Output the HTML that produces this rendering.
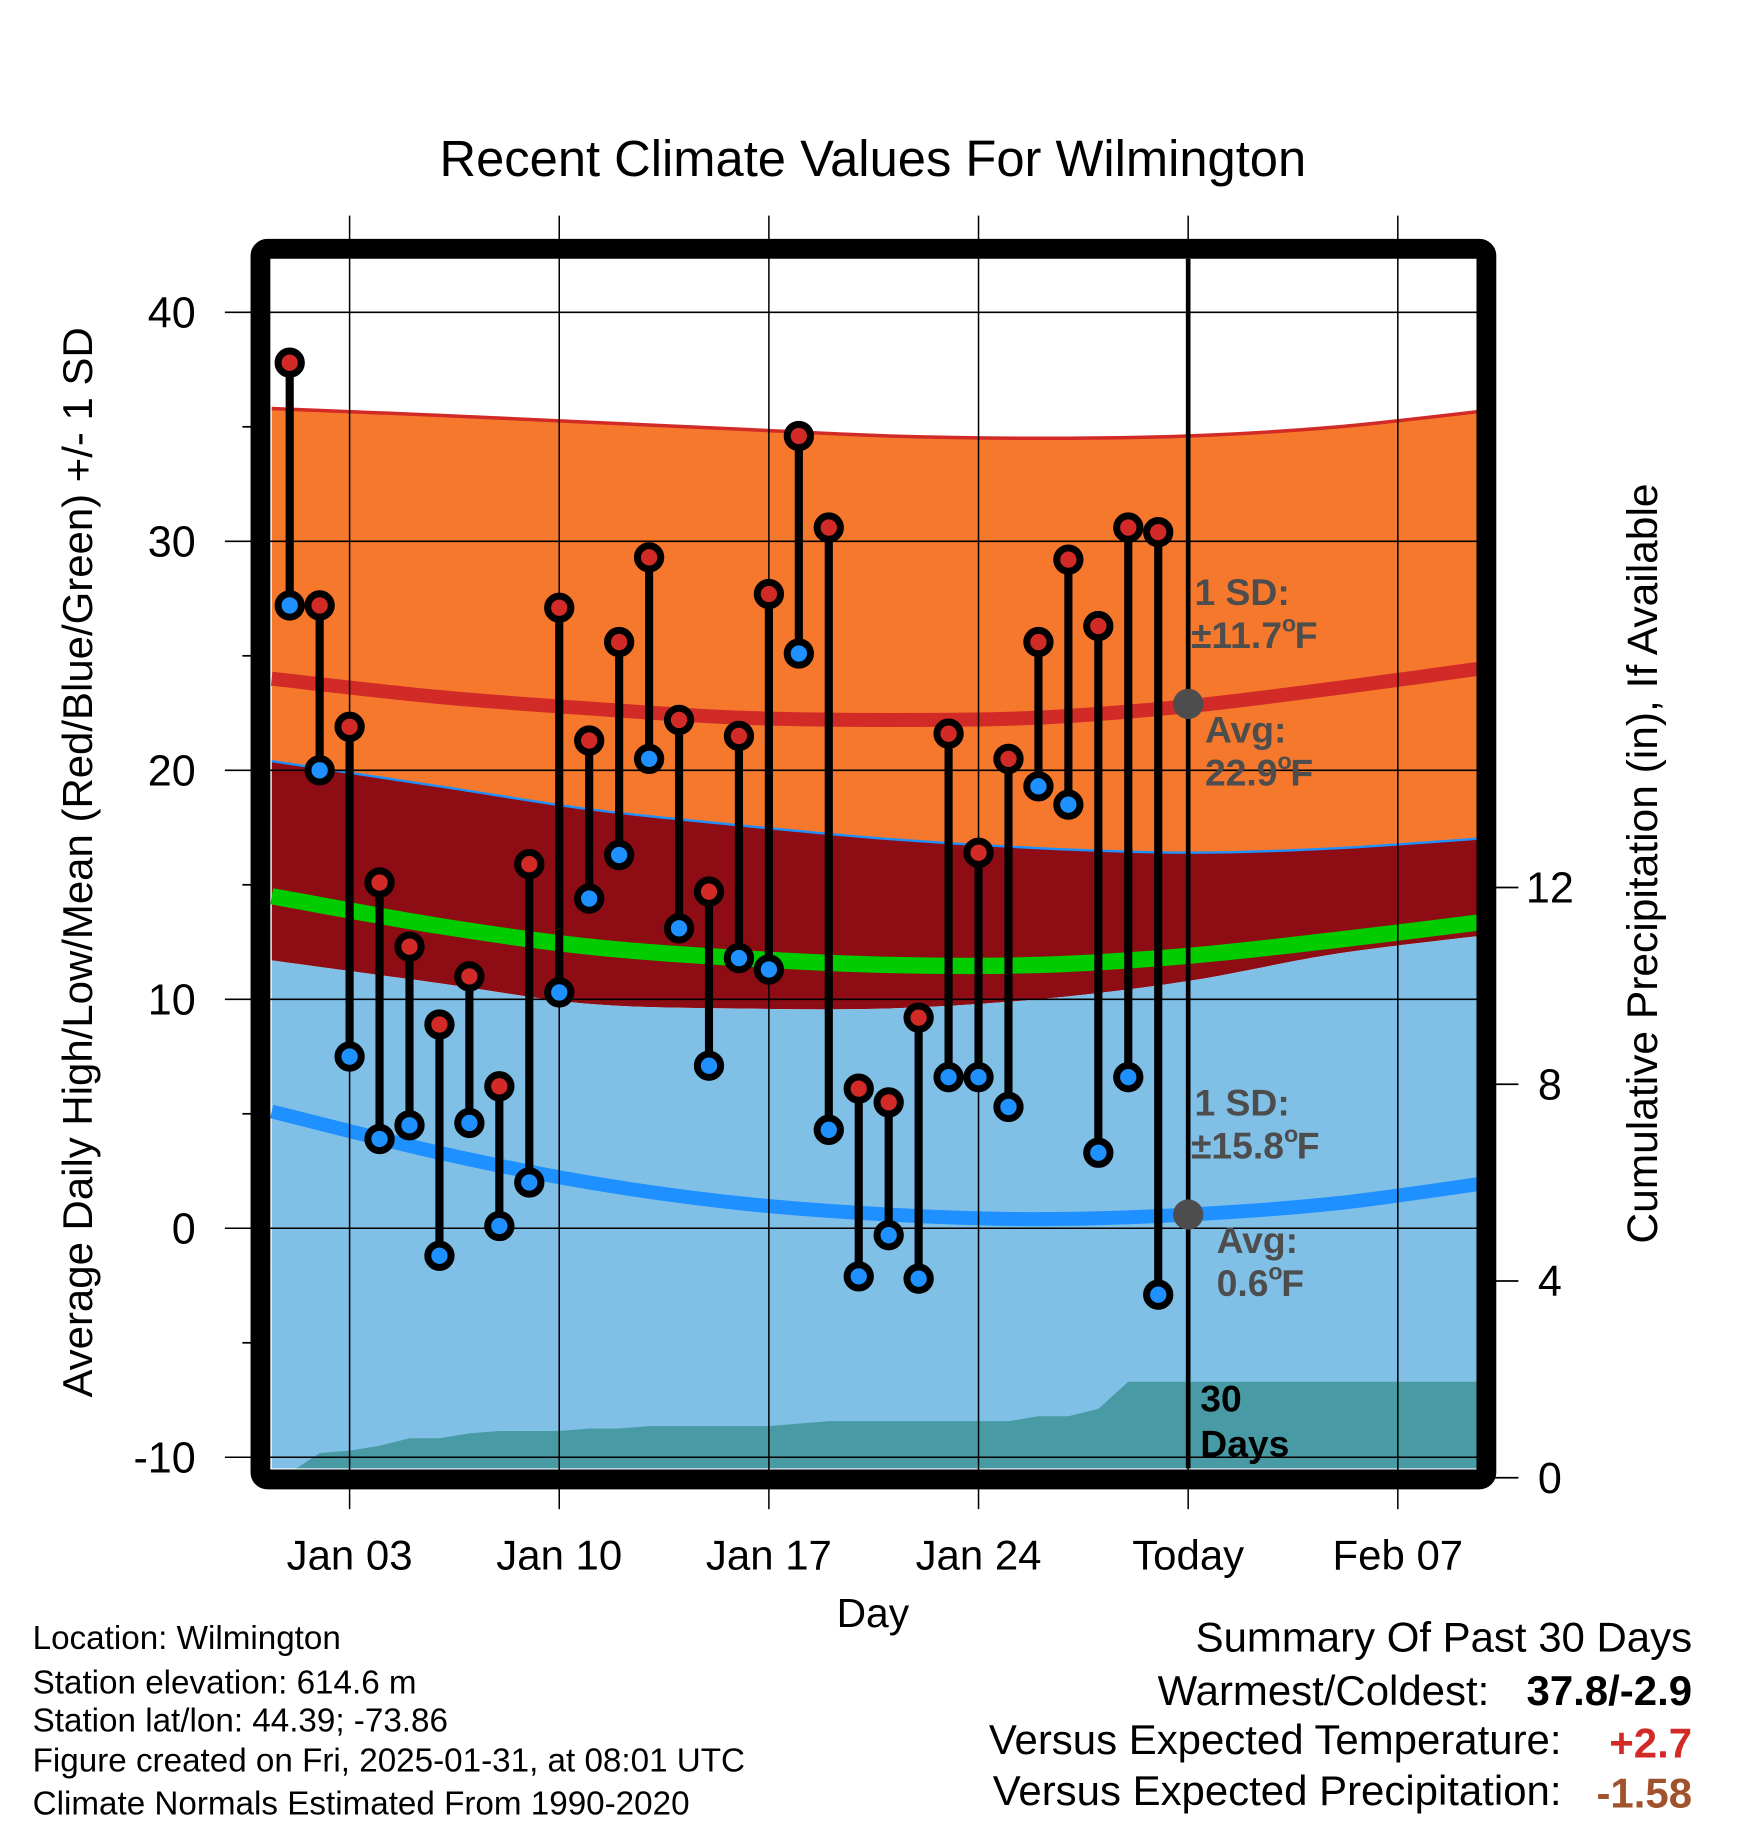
<!DOCTYPE html>
<html><head><meta charset="utf-8"><style>
html,body{margin:0;padding:0;background:#fff;}
svg{display:block;font-family:"Liberation Sans",sans-serif;}
</style></head><body>
<svg id="chart" width="1748" height="1828" viewBox="0 0 1500 1568.6" preserveAspectRatio="none" xmlns="http://www.w3.org/2000/svg">
<defs><clipPath id="plotclip"><rect x="232" y="222" width="1036" height="1038"/></clipPath></defs>
<rect width="1500" height="1568.6" fill="#fff"/>
<text x="749" y="151" font-size="43.5" text-anchor="middle">Recent Climate Values For Wilmington</text>
<g id="bands" clip-path="url(#plotclip)"></g>
<g id="grid"></g>
<g id="marks" clip-path="url(#plotclip)"></g>
<g id="labels"></g>
<g id="frame"></g>
<text transform="translate(79,740) rotate(-90)" font-size="36" text-anchor="middle">Average Daily High/Low/Mean (Red/Blue/Green) +/- 1 SD</text>
<text transform="translate(1422,741) rotate(-90)" font-size="36.5" text-anchor="middle">Cumulative Precipitation (in), If Available</text>
<text x="749" y="1396" font-size="35" text-anchor="middle">Day</text>
<g font-size="28.5">
<text x="28" y="1415">Location: Wilmington</text>
<text x="28" y="1453">Station elevation: 614.6 m</text>
<text x="28" y="1486">Station lat/lon: 44.39; -73.86</text>
<text x="28" y="1520">Figure created on Fri, 2025-01-31, at 08:01 UTC</text>
<text x="28" y="1557">Climate Normals Estimated From 1990-2020</text>
</g>
<g font-size="36" text-anchor="end">
<text x="1452" y="1417">Summary Of Past 30 Days</text>
<text x="1278" y="1463">Warmest/Coldest:</text>
<text x="1452" y="1463" font-weight="bold">37.8/-2.9</text>
<text x="1340" y="1505">Versus Expected Temperature:</text>
<text x="1452" y="1508" font-weight="bold" fill="#d12a27">+2.7</text>
<text x="1340" y="1549">Versus Expected Precipitation:</text>
<text x="1452" y="1551" font-weight="bold" fill="#a0522d">-1.58</text>
</g>
</svg>
<script>
const days=[1,2,3,4,5,6,7,8,9,10,11,12,13,14,15,16,17,18,19,20,21,22,23,24,25,26,27,28,29,30];
const highs=[37.8,27.2,21.9,15.1,12.3,8.9,11.0,6.2,15.9,27.1,21.3,25.6,29.3,22.2,14.7,21.5,27.7,34.6,30.6,6.1,5.5,9.2,21.6,16.4,20.5,25.6,29.2,26.3,30.6,30.4];
const lows=[27.2,20.0,7.5,3.9,4.5,-1.2,4.6,0.1,2.0,10.3,14.4,16.3,20.5,13.1,7.1,11.8,11.3,25.1,4.3,-2.1,-0.3,-2.2,6.6,6.6,5.3,19.3,18.5,3.3,6.6,-2.9];
const precip=[0.1,0.5,0.55,0.65,0.8,0.8,0.9,0.95,0.95,0.95,1.0,1.0,1.05,1.05,1.05,1.05,1.05,1.1,1.15,1.15,1.15,1.15,1.15,1.15,1.15,1.25,1.25,1.4,1.95,1.95];
const normDays=[0.4,6,11,16,21,26,31,36,41.6];
const highUpper=[35.8,35.5,35.2,34.9,34.6,34.5,34.6,35.0,35.8];
const highMean=[24.0,23.2,22.7,22.3,22.2,22.3,22.8,23.6,24.6];
const lowUpper=[20.4,19.3,18.3,17.6,17.0,16.6,16.4,16.6,17.1];
const darkLower=[11.7,10.7,9.8,9.6,9.6,10.0,10.8,12.0,12.9];
const meanLine=[14.5,13.2,12.3,11.8,11.5,11.5,11.9,12.6,13.5];
const lowMean=[5.1,3.3,2.0,1.1,0.6,0.4,0.6,1.1,2.1];
const yTicks=[-10,0,10,20,30,40];
const pTicks=[0,4,8,12];
const xTickDays=[3,10,17,24,31,38];
const xTickLabels=["Jan 03","Jan 10","Jan 17","Jan 24","Today","Feb 07"];

const NS="http://www.w3.org/2000/svg";
const X=d=>300+(d-3)*25.7;
const Y=v=>1054-v*19.65;
const P=p=>1268-p*42.2;
function mk(tag,attrs,parent){const e=document.createElementNS(NS,tag);for(const k in attrs)e.setAttribute(k,attrs[k]);parent.appendChild(e);return e;}
const gBands=document.getElementById('bands'),gGrid=document.getElementById('grid'),gMarks=document.getElementById('marks'),gFrame=document.getElementById('frame'),gLabels=document.getElementById('labels');
function pts(arr){return arr.map((v,i)=>[X(normDays[i]),Y(v)]);}
function smooth(p){let d='';for(let i=0;i+1<p.length;i++){const p0=p[i-1]||p[i],p1=p[i],p2=p[i+1],p3=p[i+2]||p2;
 const c1=[p1[0]+(p2[0]-p0[0])/6,p1[1]+(p2[1]-p0[1])/6],c2=[p2[0]-(p3[0]-p1[0])/6,p2[1]-(p3[1]-p1[1])/6];
 d+=' C'+c1[0].toFixed(1)+','+c1[1].toFixed(1)+' '+c2[0].toFixed(1)+','+c2[1].toFixed(1)+' '+p2[0].toFixed(1)+','+p2[1].toFixed(1);}return d;}
function curve(arr){const p=pts(arr);return 'M'+p[0][0]+','+p[0][1]+smooth(p);}
function area(top,bot){const a=pts(top),b=pts(bot).reverse();return 'M'+a[0][0]+','+a[0][1]+smooth(a)+' L'+b[0][0]+','+b[0][1]+smooth(b)+'Z';}
const bottomArr=normDays.map(()=>-12);
let e;
e=mk('path',{d:area(highUpper,lowUpper),fill:'#f5782d'},gBands);


e=mk('path',{d:area(lowUpper,darkLower),fill:'#8e0c13'},gBands);


e=mk('path',{d:area(darkLower,bottomArr),fill:'#80c0e6'},gBands);


e=mk('path',{d:curve(highUpper),fill:'none',stroke:'#d12a27','stroke-width':3},gBands);


e=mk('path',{d:curve(lowUpper),fill:'none',stroke:'#1e90ff','stroke-width':2},gBands);


e=mk('path',{d:curve(highMean),fill:'none',stroke:'#d12a27','stroke-width':12},gBands);


e=mk('path',{d:curve(meanLine),fill:'none',stroke:'#00cc00','stroke-width':14},gBands);


e=mk('path',{d:curve(lowMean),fill:'none',stroke:'#1e90ff','stroke-width':12},gBands);


let pd='M'+X(0.4)+','+P(0);
days.forEach((d,i)=>{pd+=' L'+X(d)+','+P(precip[i]).toFixed(1);});
pd+=' L'+X(41.6)+','+P(precip[precip.length-1]).toFixed(1)+' L'+X(41.6)+','+P(0)+'Z';
e=mk('path',{d:pd,fill:'#489ba4'},gBands);


yTicks.forEach(v=>{
 e=mk('line',{x1:193,x2:1268,y1:Y(v),y2:Y(v),stroke:'#000','stroke-width':1.3},gGrid);
 
 
 e=mk('text',{x:168,y:Y(v)+13,'font-size':37,'text-anchor':'end'},gGrid);
 e.textContent=v;
 
 
 if(v!==40){e=mk('line',{x1:208,x2:216,y1:Y(v+5),y2:Y(v+5),stroke:'#000','stroke-width':1.5},gGrid);
 
 }
});
xTickDays.forEach((d,i)=>{
 e=mk('line',{x1:X(d),x2:X(d),y1:185,y2:1295,stroke:'#000','stroke-width':1.3},gGrid);
 
 
 e=mk('text',{x:X(d),y:1347,'font-size':36,'text-anchor':'middle'},gGrid);
 e.textContent=xTickLabels[i];
 
 
});
pTicks.forEach(p=>{
 e=mk('line',{x1:1283,x2:1303,y1:P(p),y2:P(p),stroke:'#000','stroke-width':1.5},gGrid);
 
 
 e=mk('text',{x:1330,y:P(p)+13,'font-size':37,'text-anchor':'middle'},gGrid);
 e.textContent=p;
 
 
});
days.forEach((d,i)=>{
 e=mk('line',{x1:X(d),x2:X(d),y1:Y(highs[i]),y2:Y(lows[i]),stroke:'#000','stroke-width':7},gMarks);
 
 
});
days.forEach((d,i)=>{
 e=mk('circle',{cx:X(d),cy:Y(lows[i]),r:10,fill:'#1e90ff',stroke:'#000','stroke-width':6},gMarks);
 
 
 e=mk('circle',{cx:X(d),cy:Y(highs[i]),r:10,fill:'#d12a27',stroke:'#000','stroke-width':6},gMarks);
 
 
});
e=mk('line',{x1:X(31),x2:X(31),y1:222,y2:1262,stroke:'#000','stroke-width':4},gMarks);


e=mk('circle',{cx:X(31),cy:Y(22.9),r:13,fill:'#4d4d4d'},gMarks);


e=mk('circle',{cx:X(31),cy:Y(0.6),r:13,fill:'#4d4d4d'},gMarks);


function lbl(x,y,t,name,fill){const g=mk('text',{x:x,y:y,'font-size':32,'font-weight':'bold',fill:fill||'#4d4d4d'},gLabels);g.textContent=t;return g;}
function deg(x,y,t,name){const g=lbl(x,y,t,name);let w=t.length*17.8;try{w=g.getComputedTextLength();}catch(err){}
 const o=mk('text',{x:x+w,y:y-14,'font-size':20,'font-weight':'bold',fill:'#4d4d4d'},gLabels);o.textContent='o';
 
 
 const f=mk('text',{x:x+w+11,y:y,'font-size':32,'font-weight':'bold',fill:'#4d4d4d'},gLabels);f.textContent='F';
 
 }
lbl(1025,519,'1 SD:','high-sd-label');
deg(1022,556,'±11.7','high-sd-value');
lbl(1034,637,'Avg:','high-avg-label');
deg(1034,674,'22.9','high-avg-value');
lbl(1025,957,'1 SD:','low-sd-label');
deg(1022,994,'±15.8','low-sd-value');
lbl(1044,1075,'Avg:','low-avg-label');
deg(1044,1112,'0.6','low-avg-value');
lbl(1030,1211,'30','precip-days-label','#000');
lbl(1030,1250,'Days','precip-days-unit','#000');
e=mk('rect',{x:223.5,y:213.5,width:1052,height:1056,rx:6,fill:'none',stroke:'#000','stroke-width':17},gFrame);


</script>
</body></html>
